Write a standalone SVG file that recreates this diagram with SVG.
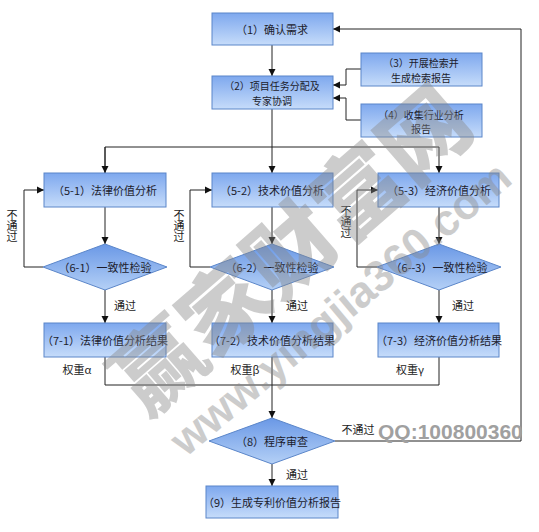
<svg xmlns="http://www.w3.org/2000/svg" width="539" height="532" viewBox="0 0 539 532">
<defs>
<linearGradient id="gb" x1="0" y1="0" x2="0" y2="1">
<stop offset="0" stop-color="#7ea8ee"/>
<stop offset="1" stop-color="#c6dcfa"/>
</linearGradient>
<linearGradient id="gd" x1="0" y1="0" x2="0" y2="1">
<stop offset="0" stop-color="#6a98e6"/>
<stop offset="1" stop-color="#b4d0f6"/>
</linearGradient>
<marker id="ar" markerWidth="8" markerHeight="8" refX="7" refY="4" orient="auto" markerUnits="userSpaceOnUse">
<path d="M0,0.5 L7,4 L0,7.5 Z" fill="#111"/>
</marker>
<style>
.box{fill:url(#gb);stroke:#5b86c9;stroke-width:1}
.dia{fill:url(#gd);stroke:#5b86c9;stroke-width:1}
.t{font-family:"Noto Sans CJK SC","Liberation Sans",sans-serif;font-size:11px;fill:#1c1c2c;text-anchor:middle;dominant-baseline:central}
.t2{font-family:"Noto Sans CJK SC","Liberation Sans",sans-serif;font-size:10px;fill:#1c1c2c;text-anchor:middle;dominant-baseline:central}
.l{font-family:"Noto Sans CJK SC","Liberation Sans",sans-serif;font-size:11px;fill:#222;text-anchor:middle;dominant-baseline:central}
.v{font-family:"Noto Sans CJK SC","Liberation Sans",sans-serif;font-size:11px;fill:#222;writing-mode:vertical-rl;text-anchor:middle;letter-spacing:0}
.c{fill:none;stroke:#222;stroke-width:1}
.wm{font-family:"Noto Sans CJK SC","Liberation Sans",sans-serif;font-weight:900;fill:#888;opacity:0.42;text-anchor:middle;dominant-baseline:central}
</style>
</defs>
<rect width="539" height="532" fill="#fff"/>
<g id="connectors">
<path class="c" d="M272,45 V76" marker-end="url(#ar)"/>
<path class="c" d="M361,69 H346 V85 H333" marker-end="url(#ar)"/>
<path class="c" d="M361,120 H346 V98 H333" marker-end="url(#ar)"/>
<path class="c" d="M272,109 V173" marker-end="url(#ar)"/>
<path class="c" d="M105,173 V147 H439 V173" marker-end="url(#ar)"/>
<path class="c" d="M105,147 V173" marker-end="url(#ar)"/>
<path class="c" d="M105,207 V244" marker-end="url(#ar)"/>
<path class="c" d="M272,207 V244" marker-end="url(#ar)"/>
<path class="c" d="M439,207 V244" marker-end="url(#ar)"/>
<path class="c" d="M43,267 H24 V190 H44" marker-end="url(#ar)"/>
<path class="c" d="M210,267 H190 V190 H212" marker-end="url(#ar)"/>
<path class="c" d="M377,267 H357 V190 H378" marker-end="url(#ar)"/>
<path class="c" d="M105,290 V323" marker-end="url(#ar)"/>
<path class="c" d="M272,290 V323" marker-end="url(#ar)"/>
<path class="c" d="M439,290 V323" marker-end="url(#ar)"/>
<path class="c" d="M105,357 V385 H439 V357"/>
<path class="c" d="M272,357 V418" marker-end="url(#ar)"/>
<path class="c" d="M335,441 H521 V29 H333" marker-end="url(#ar)"/>
<path class="c" d="M272,464 V486" marker-end="url(#ar)"/>
</g>
<g id="n1"><rect class="box" x="212" y="13" width="121" height="32"/><text class="t" x="272" y="29">（1）确认需求</text></g>
<g id="n2"><rect class="box" x="212" y="76" width="121" height="33"/><text class="t2"><tspan x="272" y="85.3">（2）项目任务分配及</tspan><tspan x="272" y="99.8">专家协调</tspan></text></g>
<g id="n3"><rect class="box" x="361" y="53" width="121" height="33"/><text class="t2"><tspan x="421" y="62.3">（3）开展检索并</tspan><tspan x="421" y="76.8">生成检索报告</tspan></text></g>
<g id="n4"><rect class="box" x="361" y="104" width="121" height="33"/><text class="t2"><tspan x="421" y="113.5">（4）收集行业分析</tspan><tspan x="421" y="128">报告</tspan></text></g>
<g id="n5-1"><rect class="box" x="44" y="173" width="122" height="34"/><text class="t" x="105" y="190">（5-1）法律价值分析</text></g>
<g id="n5-2"><rect class="box" x="212" y="173" width="121" height="34"/><text class="t" x="272" y="190">（5-2）技术价值分析</text></g>
<g id="n5-3"><rect class="box" x="378" y="173" width="121" height="34"/><text class="t" x="439" y="190">（5-3）经济价值分析</text></g>
<g id="n6-1"><polygon class="dia" points="105,244 167,267 105,290 43,267"/><text class="t" x="105" y="267">（6-1）一致性检验</text></g>
<g id="n6-2"><polygon class="dia" points="272,244 334,267 272,290 210,267"/><text class="t" x="272" y="267">（6-2）一致性检验</text></g>
<g id="n6-3"><polygon class="dia" points="439,244 501,267 439,290 377,267"/><text class="t" x="439" y="267">（6--3）一致性检验</text></g>
<g id="n7-1"><rect class="box" x="44" y="323" width="122" height="34"/><text class="t" x="105" y="340">（7-1）法律价值分析结果</text></g>
<g id="n7-2"><rect class="box" x="212" y="323" width="121" height="34"/><text class="t" x="272" y="340">（7-2）技术价值分析结果</text></g>
<g id="n7-3"><rect class="box" x="378" y="323" width="121" height="34"/><text class="t" x="439" y="340">（7-3）经济价值分析结果</text></g>
<g id="n8"><polygon class="dia" points="272,418 335,441 272,464 209,441"/><text class="t" x="272" y="441">（8）程序审查</text></g>
<g id="n9"><rect class="box" x="206" y="486" width="132" height="32"/><text class="t" x="272" y="502">（9）生成专利价值分析报告</text></g>
<g id="labels">
<text class="v" x="12" y="226">不通过</text>
<text class="v" x="179" y="226">不通过</text>
<text class="v" x="346" y="222">不通过</text>
<text class="l" x="125" y="305">通过</text>
<text class="l" x="297" y="305">通过</text>
<text class="l" x="463" y="305">通过</text>
<text class="l" x="297" y="474">通过</text>
<text class="l" x="77" y="369">权重α</text>
<text class="l" x="245" y="369">权重β</text>
<text class="l" x="410" y="369">权重γ</text>
<text class="l" x="358" y="429">不通过</text>
</g>
<g id="watermark">
<text class="wm" font-size="88" transform="translate(287,245) rotate(-41)">赢家财富网</text>
<text class="wm" font-size="44" style="font-family:'Liberation Sans',sans-serif;font-weight:bold" transform="translate(340,308) rotate(-40)">www.yingjia360.com</text>
<text x="378" y="439" font-family="Liberation Sans, sans-serif" font-weight="bold" font-size="21" fill="#a0a0a0">QQ:100800360</text>
</g>
</svg>
